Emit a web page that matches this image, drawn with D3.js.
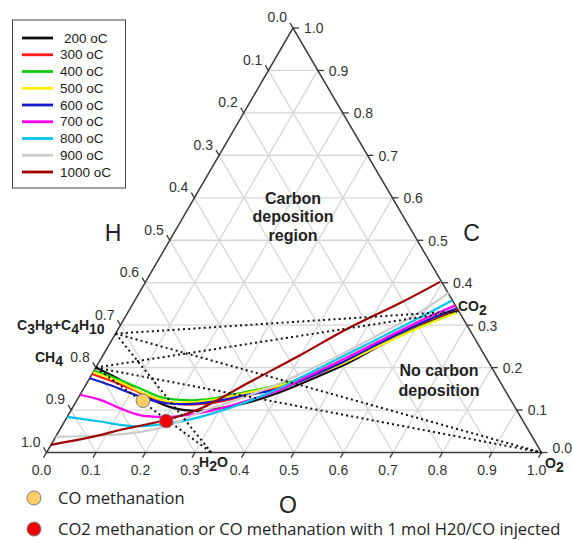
<!DOCTYPE html>
<html><head><meta charset="utf-8">
<script src="https://cdn.jsdelivr.net/npm/d3@7"></script>
<style>body{margin:0;background:#fff}svg{display:block}</style>
</head><body><svg id="c" width="573" height="540"></svg>
<script>
// ---------- DATA ----------
const temperatures = ["200 oC","300 oC","400 oC","500 oC","600 oC","700 oC","800 oC","900 oC","1000 oC"];
const lineColors = ["#111111","#ff1a1a","#11cc11","#ffee00","#1a1acc","#ff00ee","#00c4ee","#cccccc","#a00000"];
// Each curve: points as [O fraction, C fraction]; H = 1 - O - C
const c200 = [[0,0.200],[0.074,0.166],[0.133,0.133],[0.203,0.105],[0.261,0.098],[0.322,0.110],[0.352,0.119],[0.406,0.145],[0.458,0.178],[0.507,0.213],[0.553,0.256],[0.601,0.296],[0.636,0.319],[0.664,0.336]];
const c300 = [[0,0.185],[0.068,0.161],[0.132,0.136],[0.191,0.117],[0.234,0.113],[0.282,0.118],[0.335,0.133],[0.395,0.154],[0.428,0.168],[0.489,0.209],[0.546,0.257],[0.604,0.303],[0.662,0.337]];
const c400 = [[0,0.193],[0.063,0.171],[0.114,0.151],[0.164,0.131],[0.208,0.124],[0.262,0.125],[0.322,0.140],[0.392,0.160],[0.426,0.173],[0.489,0.209],[0.548,0.253],[0.607,0.296],[0.664,0.330]];
const c500 = [[0,0.189],[0.066,0.166],[0.125,0.140],[0.184,0.120],[0.225,0.118],[0.269,0.123],[0.323,0.137],[0.393,0.158],[0.427,0.172],[0.490,0.207],[0.548,0.252],[0.608,0.295],[0.664,0.329]];
const c600 = [[0,0.175],[0.049,0.159],[0.106,0.138],[0.148,0.124],[0.186,0.116],[0.227,0.114],[0.277,0.120],[0.338,0.136],[0.397,0.150],[0.428,0.168],[0.489,0.210],[0.545,0.258],[0.603,0.304],[0.659,0.339]];
const c700 = [[0,0.136],[0.047,0.124],[0.097,0.104],[0.145,0.088],[0.187,0.084],[0.227,0.086],[0.276,0.096],[0.321,0.112],[0.398,0.147],[0.427,0.171],[0.486,0.216],[0.543,0.263],[0.600,0.310],[0.653,0.346]];
const c800 = [[0,0.084],[0.072,0.073],[0.144,0.062],[0.191,0.065],[0.234,0.073],[0.280,0.088],[0.323,0.107],[0.396,0.152],[0.425,0.176],[0.482,0.223],[0.539,0.270],[0.596,0.318],[0.641,0.358]];
const c900 = [[0,0.037],[0.088,0.040],[0.165,0.048],[0.217,0.065],[0.263,0.095],[0.316,0.121],[0.375,0.154],[0.420,0.185],[0.479,0.230],[0.535,0.279],[0.590,0.331],[0.625,0.376]];
const c1000 = [[0,0.018],[0.088,0.041],[0.122,0.053],[0.205,0.077],[0.259,0.103],[0.328,0.166],[0.398,0.229],[0.462,0.291],[0.539,0.352],[0.595,0.402]];
const curves = [c200,c300,c400,c500,c600,c700,c800,c900,c1000];

// species compositions [O, C]
const pCH4 = [0, 0.20];
const pC3C4 = [0, 0.28];
const pCO2 = [0.667, 0.333];
const pH2O = [0.333, 0];
const pO2 = [1, 0];
const dottedLinks = [[pC3C4,pCO2],[pC3C4,pO2],[pC3C4,pH2O],[pCH4,pCO2],[pCH4,pO2],[pCH4,pH2O]];

// operating points [O, C]
const pointLabels = ["CO methanation","CO2 methanation or CO methanation with 1 mol H20/CO injected"];
const pointValues = [[0.134,0.122],[0.205,0.074]];
const pointColors = ["#ffcf66","#ee0000"];

const tickValues = [0,0.1,0.2,0.3,0.4,0.5,0.6,0.7,0.8,0.9,1.0];
const tickLabels = ["0.0","0.1","0.2","0.3","0.4","0.5","0.6","0.7","0.8","0.9","1.0"];

// ---------- DRAW ----------
const svg = d3.select("#c");
const X = d3.scaleLinear().domain([0,1]).range([46.5,541.5]);
const Y = d3.scaleLinear().domain([0,1]).range([452.5,28]);
const skew = (293-46.5)/495;
const P = (o,c) => [X(o + skew*c), Y(c)];
const font = "'Liberation Sans', Arial, sans-serif";

// grid
const g = svg.append("g");
const inner = tickValues.slice(1,10);
const gridSegs = [];
inner.forEach(t => {
  gridSegs.push([P(0,t),P(1-t,t)]);       // constant C
  gridSegs.push([P(t,0),P(t,1-t)]);       // constant O
  gridSegs.push([P(1-t,0),P(0,1-t)]);     // constant H
});
g.selectAll("line.grid").data(gridSegs).enter().append("line")
  .attr("x1",d=>d[0][0]).attr("y1",d=>d[0][1]).attr("x2",d=>d[1][0]).attr("y2",d=>d[1][1])
  .attr("stroke","#d6d6d6").attr("stroke-width",1.3);

// triangle
const tri = [P(0,0),P(1,0),P(0,1)];
svg.append("path").attr("d","M"+tri.map(p=>p.join(",")).join("L")+"Z")
  .attr("fill","none").attr("stroke","#3a3a3a").attr("stroke-width",1.5);

// ticks & labels
const tl = 6;
const dB = [-0.502,0.865], dL=[-0.505,-0.863], dR=[1,0];
tickValues.forEach((t,i)=>{
  let b = P(t,0);
  svg.append("line").attr("x1",b[0]).attr("y1",b[1]).attr("x2",b[0]+dB[0]*tl).attr("y2",b[1]+dB[1]*tl).attr("stroke","#3a3a3a").attr("stroke-width",1.3);
  svg.append("text").attr("x",b[0]-5).attr("y",475).attr("text-anchor","middle")
    .attr("font-family",font).attr("font-size",14).attr("fill","#333").text(tickLabels[i]);
  let l = P(0,1-t);
  svg.append("line").attr("x1",l[0]).attr("y1",l[1]).attr("x2",l[0]+dL[0]*tl).attr("y2",l[1]+dL[1]*tl).attr("stroke","#3a3a3a").attr("stroke-width",1.3);
  svg.append("text").attr("x",l[0]-6).attr("y",l[1]-10.5).attr("dy","0.35em").attr("text-anchor","end")
    .attr("font-family",font).attr("font-size",14).attr("fill","#333").text(tickLabels[i]);
  let r = P(1-t,t);
  svg.append("line").attr("x1",r[0]).attr("y1",r[1]).attr("x2",r[0]+dR[0]*tl).attr("y2",r[1]).attr("stroke","#3a3a3a").attr("stroke-width",1.3);
  svg.append("text").attr("x",r[0]+11).attr("y",r[1]+(i===0?-4:0.5)).attr("dy","0.35em").attr("text-anchor","start")
    .attr("font-family",font).attr("font-size",14).attr("fill","#333").text(tickLabels[i]);
});

// axis titles
[["H",113,233],["C",471.5,233],["O",288,505]].forEach(a=>{
  svg.append("text").attr("x",a[1]).attr("y",a[2]).attr("dy","0.35em").attr("text-anchor","middle")
    .attr("font-family",font).attr("font-size",23).attr("fill","#222").text(a[0]);
});

// curves
const line = d3.line().x(d=>P(d[0],d[1])[0]).y(d=>P(d[0],d[1])[1]).curve(d3.curveCatmullRom.alpha(0.5));
curves.forEach((c,i)=>{
  svg.append("path").attr("d",line(c)).attr("fill","none").attr("stroke",lineColors[i]).attr("stroke-width",2.2).attr("stroke-linejoin","round");
});

// dotted lines
dottedLinks.forEach(l=>{
  const a=P(l[0][0],l[0][1]), b=P(l[1][0],l[1][1]);
  svg.append("line").attr("x1",a[0]).attr("y1",a[1]).attr("x2",b[0]).attr("y2",b[1])
    .attr("stroke","#111").attr("stroke-width",2).attr("stroke-dasharray","2,3.2");
});

// points
pointValues.forEach((p,i)=>{
  const q=P(p[0],p[1]);
  svg.append("circle").attr("cx",q[0]).attr("cy",q[1]).attr("r",6.8).attr("fill",pointColors[i]).attr("stroke","#7d7d8a").attr("stroke-width",1);
});

// region labels
function multi(lines,x,y,dy){
  const t=svg.append("text").attr("font-family",font).attr("font-weight","bold").attr("font-size",16).attr("fill","#222").attr("text-anchor","middle");
  lines.forEach((s,i)=>t.append("tspan").attr("x",x).attr("y",y+i*dy).attr("dy","0.35em").text(s));
}
multi(["Carbon","deposition","region"],293,198,18.5);
multi(["No carbon","deposition"],439,370,20);

// species labels with subscripts
function chem(parts,x,y,anchor){
  const t=svg.append("text").attr("x",x).attr("y",y).attr("font-family",font).attr("font-weight","bold").attr("font-size",14).attr("fill","#222").attr("text-anchor",anchor||"start");
  parts.forEach(p=>{
    const s=t.append("tspan").text(p[0]);
    if(p[1]) s.attr("baseline-shift","-30%").attr("font-size",14);
  });
}
chem([["C"],["3",1],["H"],["8",1],["+C"],["4",1],["H"],["10",1]],17,330);
chem([["CH"],["4",1]],35,362);
chem([["CO"],["2",1]],458,311);
chem([["H"],["2",1],["O"]],199,467);
chem([["O"],["2",1]],545,468);

// legend box
svg.append("rect").attr("x",12.5).attr("y",20).attr("width",113).attr("height",168).attr("fill","#fff").attr("stroke","#444").attr("stroke-width",1);
temperatures.forEach((t,i)=>{
  const y=38+i*16.75;
  svg.append("line").attr("x1",22).attr("x2",53).attr("y1",y).attr("y2",y).attr("stroke",lineColors[i]).attr("stroke-width",2.8);
  svg.append("text").attr("x",i===0?64:60).attr("y",y).attr("dy","0.35em").attr("font-family",font).attr("font-size",13.5).attr("fill","#222").text(t);
});

// bottom legend
pointLabels.forEach((s,i)=>{
  const y = 498 + i*31;
  svg.append("circle").attr("cx",34).attr("cy",y).attr("r",7).attr("fill",pointColors[i]).attr("stroke","#7d7d8a").attr("stroke-width",1);
  svg.append("text").attr("x",58).attr("y",y).attr("dy","0.35em").attr("font-family","'Open Sans', sans-serif").attr("font-size",16.5).attr("fill","#222").text(s);
});
</script></body></html>
